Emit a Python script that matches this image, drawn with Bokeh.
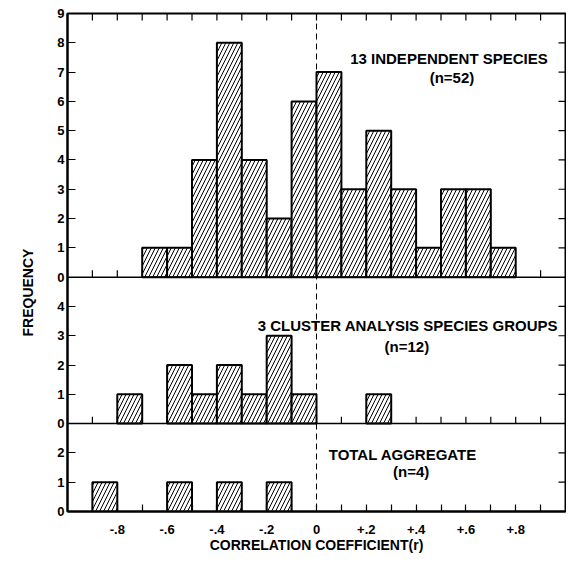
import numpy as np
from bokeh.plotting import figure
from bokeh.models import Range1d, FixedTicker, Span, Label, Title
from bokeh.embed import file_html
from bokeh.resources import INLINE

# ---- data ----
bin_left = [-0.9, -0.8, -0.7, -0.6, -0.5, -0.4, -0.3, -0.2, -0.1,
            0.0, 0.1, 0.2, 0.3, 0.4, 0.5, 0.6, 0.7]
bin_width = 0.1
independent_species = [0, 0, 1, 1, 4, 8, 4, 2, 6, 7, 3, 5, 3, 1, 3, 3, 1]
cluster_groups      = [0, 1, 0, 2, 1, 2, 1, 3, 1, 0, 0, 1, 0, 0, 0, 0, 0]
total_aggregate     = [1, 0, 0, 1, 0, 1, 0, 1, 0, 0, 0, 0, 0, 0, 0, 0, 0]

# panels listed bottom to top
panel_counts = [total_aggregate, cluster_groups, independent_species]
panel_heights = [3, 5, 9]
panel_tick_max = [2, 4, 9]
panel_title = ["TOTAL AGGREGATE", "3 CLUSTER ANALYSIS SPECIES GROUPS", "13 INDEPENDENT SPECIES"]
panel_n = ["(n=4)", "(n=12)", "(n=52)"]
title_x = [0.347, 0.367, 0.532]
title_y = [1.96, 3.34, 7.48]   # relative to each panel's base
n_x = [0.380, 0.363, 0.544]
n_y = [1.35, 2.63, 6.81]

x_major_ticks = [-0.8, -0.6, -0.4, -0.2, 0.0, 0.2, 0.4, 0.6, 0.8]
x_major_labels = ["-.8", "-.6", "-.4", "-.2", "0", "+.2", "+.4", "+.6", "+.8"]
x_minor_ticks = [-0.9, -0.7, -0.5, -0.3, -0.1, 0.1, 0.3, 0.5, 0.7, 0.9]

x_title = "CORRELATION COEFFICIENT(r)"
y_title = "FREQUENCY"

FONT = "Liberation Sans"

offsets = [int(v) for v in np.cumsum([0] + panel_heights[:-1])]
ytotal = sum(panel_heights)

W, H = 566, 555
ML, MR, MT, MB = 67, 1, 13, 38
p = figure(width=W, height=H, output_backend="svg", toolbar_location=None,
           x_range=Range1d(-1.0, 1.0), y_range=Range1d(0, ytotal),
           min_border_left=ML, min_border_right=MR, min_border_top=MT, min_border_bottom=MB)
p.grid.visible = False
p.outline_line_color = "black"
p.outline_line_width = 2
p.background_fill_color = "white"
p.border_fill_color = "white"

# left axis ticks/labels
yt, ylab = [], {}
for off, tmax in zip(offsets, panel_tick_max):
    for k in range(tmax + 1):
        yt.append(int(off + k))
        ylab[int(off + k)] = str(k)
p.yaxis.ticker = FixedTicker(ticks=yt)
p.yaxis.major_label_overrides = ylab
p.yaxis.major_tick_in = 8
p.yaxis.major_tick_out = 0
p.yaxis.minor_tick_line_color = None
p.yaxis.axis_line_width = 2
p.yaxis.major_tick_line_width = 1.2
p.yaxis.major_label_standoff = 3
p.yaxis.major_label_text_font = FONT
p.yaxis.major_label_text_font_size = "13px"
p.yaxis.major_label_text_font_style = "bold"
p.yaxis.major_label_text_color = "black"

p.xaxis.ticker = FixedTicker(ticks=x_major_ticks, minor_ticks=x_minor_ticks)
p.xaxis.major_label_overrides = {t: l for t, l in zip(x_major_ticks, x_major_labels)}
p.xaxis.major_tick_in = 7
p.xaxis.major_tick_out = 0
p.xaxis.minor_tick_in = 7
p.xaxis.minor_tick_out = 0
p.xaxis.axis_line_width = 2
p.xaxis.major_tick_line_width = 1.2
p.xaxis.minor_tick_line_width = 1.2
p.xaxis.major_label_standoff = 13
p.xaxis.major_label_text_font = FONT
p.xaxis.major_label_text_font_size = "13px"
p.xaxis.major_label_text_font_style = "bold"
p.xaxis.major_label_text_color = "black"
p.xaxis.axis_label = x_title
p.xaxis.axis_label_standoff = 0
p.xaxis.axis_label_text_font = FONT
p.xaxis.axis_label_text_font_size = "14px"
p.xaxis.axis_label_text_font_style = "bold"
p.xaxis.axis_label_text_color = "black"

# y title as a left-side title, shifted along the axis
p.add_layout(Title(text=y_title, align="left", offset=175, standoff=34, vertical_align="top",
                   text_font=FONT, text_font_size="14px", text_font_style="bold",
                   text_color="black"), "left")

# extra tick marks: top edge, right edge, interior panel bases
frame_w = W - ML - MR
frame_h = H - MT - MB
tick_dx = 7 / (frame_w / 2.0)
tick_dy = 7 / (frame_h / ytotal)
all_xt = sorted(x_major_ticks + x_minor_ticks)
p.segment(x0=all_xt, y0=[ytotal] * len(all_xt), x1=all_xt, y1=[ytotal - tick_dy] * len(all_xt),
          line_color="black", line_width=1.2)
for off in offsets[1:]:
    p.segment(x0=all_xt, y0=[off] * len(all_xt), x1=all_xt, y1=[off + tick_dy] * len(all_xt),
              line_color="black", line_width=1.2)
ry = [t for t in yt if t not in offsets and t != ytotal]
p.segment(x0=[1.0] * len(ry), y0=ry, x1=[1.0 - tick_dx] * len(ry), y1=ry,
          line_color="black", line_width=1.2)

# panel separators and zero line
for off in offsets[1:]:
    p.add_layout(Span(location=off, dimension="width", line_color="black", line_width=1.5))
p.add_layout(Span(location=0, dimension="height", line_color="black", line_width=1,
                  line_dash="6 4"))

# bars
edges = np.array(bin_left)
for off, counts in zip(offsets, panel_counts):
    c = np.array(counts)
    m = c > 0
    p.quad(left=edges[m], right=edges[m] + bin_width,
           bottom=np.full(int(m.sum()), off), top=off + c[m],
           fill_color="white", line_color="black", line_width=2,
           hatch_pattern="/", hatch_color="black", hatch_scale=8, hatch_weight=1.0)

# panel titles
for off, t, tx, ty, n, nx, ny in zip(offsets, panel_title, title_x, title_y, panel_n, n_x, n_y):
    p.add_layout(Label(x=tx, y=off + ty, text=t, text_align="center", text_baseline="middle",
                       text_font=FONT, text_font_size="15px", text_font_style="bold",
                       text_color="black"))
    p.add_layout(Label(x=nx, y=off + ny, text=n, text_align="center", text_baseline="middle",
                       text_font=FONT, text_font_size="15px", text_font_style="bold",
                       text_color="black"))

open("out.html", "w").write(file_html(p, INLINE))
